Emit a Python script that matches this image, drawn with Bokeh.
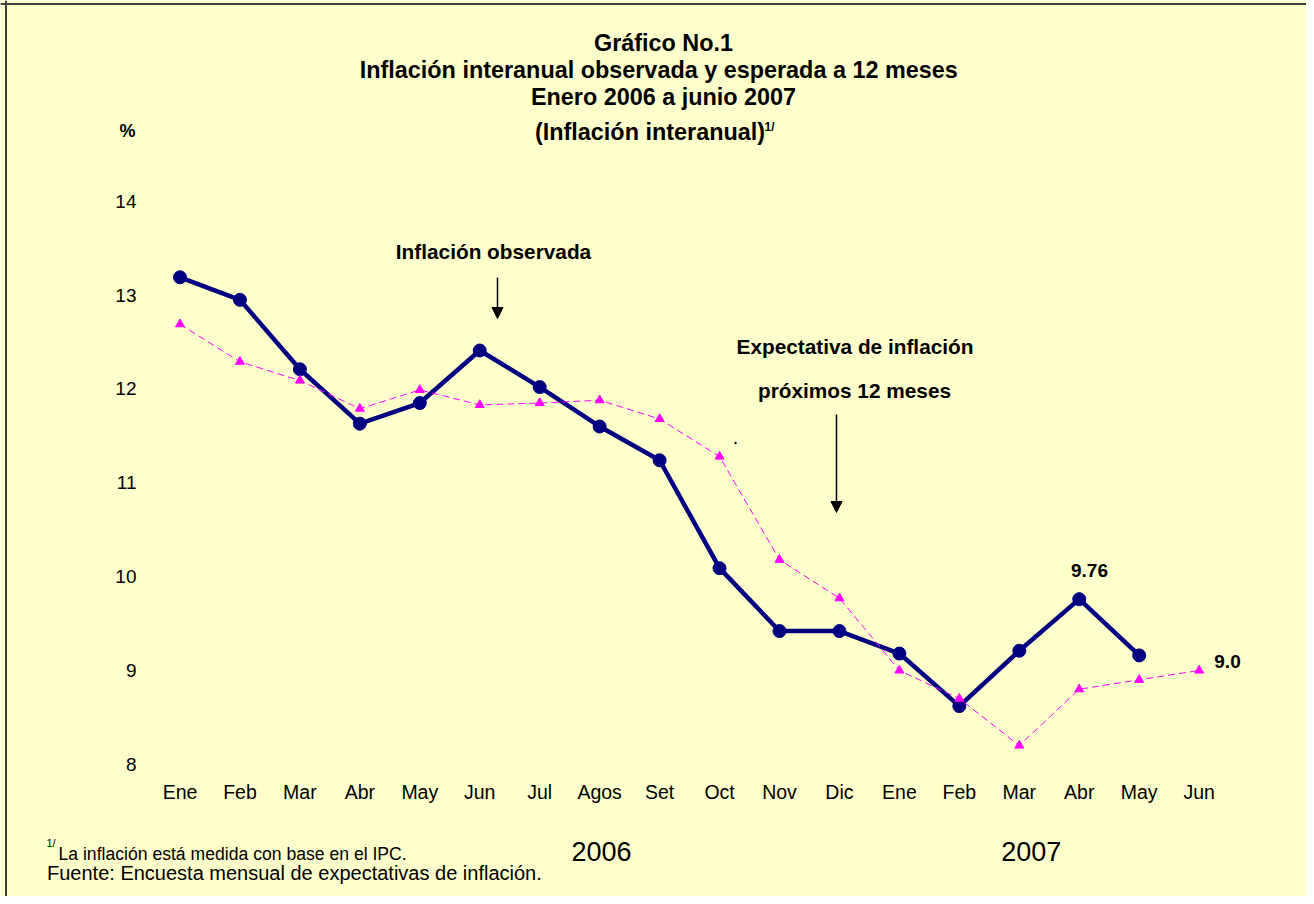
from bokeh.plotting import figure
from bokeh.models import Range1d, LinearAxis, FixedTicker, Label, Arrow, NormalHead, Span
from bokeh.embed import file_html
from bokeh.resources import INLINE

# ---------------- data ----------------
months = ["Ene", "Feb", "Mar", "Abr", "May", "Jun", "Jul", "Agos", "Set", "Oct",
          "Nov", "Dic", "Ene", "Feb", "Mar", "Abr", "May", "Jun"]
observada = [13.19, 12.95, 12.21, 11.63, 11.85, 12.41, 12.02, 11.60, 11.24, 10.09,
             9.42, 9.42, 9.18, 8.62, 9.21, 9.76, 9.16]
esperada = [12.69, 12.29, 12.09, 11.79, 11.99, 11.83, 11.85, 11.88, 11.68, 11.28,
            10.18, 9.77, 9.00, 8.70, 8.20, 8.80, 8.90, 9.00]
y_ticks = [8, 9, 10, 11, 12, 13, 14]
years = ["2006", "2007"]
year_pos = [7.03, 14.2]

# ---------------- layout helpers ----------------
W, H = 1306, 896
X0, DX = 179.5, 59.95     # px of first month, px per month
Y14, DY = 200.8, 93.83    # px of value 14, px per unit
FONT = "Liberation Sans"


def dx(px):  # pixel x -> data x
    return (px - X0) / DX


def dy(py):  # pixel y -> data y
    return 14 - (py - Y14) / DY


p = figure(width=W, height=H, title=None,
           x_range=Range1d(dx(0), dx(W)), y_range=Range1d(dy(H), dy(0)),
           output_backend="svg", toolbar_location=None,
           x_axis_location=None, y_axis_location=None, min_border=0,
           background_fill_color="#FFFFCC", border_fill_color="#FFFFCC",
           outline_line_color=None)
p.grid.grid_line_color = None

# outer frame of the chart area (left and top edges)
p.add_layout(Span(location=dx(5.5), dimension="height", line_color="#404040", line_width=2))
p.add_layout(Span(location=dy(3.5), dimension="width", line_color="#404040", line_width=2))

# y axis
yax = LinearAxis(fixed_location=dx(139), ticker=FixedTicker(ticks=y_ticks),
                 axis_line_color=None, major_tick_line_color=None,
                 minor_tick_line_color=None, major_tick_out=0, major_tick_in=0,
                 major_label_standoff=3, major_label_text_font=FONT,
                 major_label_text_font_size="19px", major_label_text_color="#000000")
p.add_layout(yax, "left")

# x axis (months)
xax = LinearAxis(fixed_location=dy(780.8), ticker=FixedTicker(ticks=list(range(len(months)))),
                 major_label_overrides={i: m for i, m in enumerate(months)},
                 axis_line_color=None, major_tick_line_color=None,
                 minor_tick_line_color=None, major_tick_out=0, major_tick_in=0,
                 major_label_standoff=0, major_label_text_font=FONT,
                 major_label_text_font_size="19.5px", major_label_text_color="#000000")
p.add_layout(xax, "below")

# series
xo = list(range(len(observada)))
xe = list(range(len(esperada)))
p.line(xo, observada, line_color="#000080", line_width=4.5)
p.scatter(xo, observada, marker="circle", size=13, fill_color="#000080", line_color="#000080")
p.line(xe, esperada, line_color="#FF00FF", line_width=1, line_dash="7 4")
p.scatter(xe, esperada, marker="triangle", size=9, fill_color="#FF00FF", line_color="#FF00FF")


def lab(text, x, y, size, bold=False, align="center", xdata=False):
    fs = float(size)
    yy = y - 0.35 * fs  # compensate label baseline placement
    p.add_layout(Label(x=x if xdata else dx(x), y=dy(yy), text=text, text_font=FONT,
                       text_font_size=f"{fs}px",
                       text_font_style="bold" if bold else "normal",
                       text_align=align, text_baseline="alphabetic", text_color="#000000"))


# titles
lab("Gráfico No.1", 663, 50.5, 23.4, True)
lab("Inflación  interanual observada y esperada a 12 meses", 661.5, 77.5, 23.4, True)
lab("Enero 2006 a junio 2007", 663, 105, 23.4, True)
lab("(Inflación interanual)", 649.5, 140, 23.4, True)
lab("1/", 764, 131, 12, True, "left")
lab("%", 127, 137, 18, True)

# annotations
lab("Inflación observada", 493, 258, 20.8, True)
lab("Expectativa de inflación", 854.5, 353, 20.8, True)
lab("próximos 12 meses", 854, 397, 20.8, True)
lab(".", 735, 443, 14, True)
lab("9.76", 1089, 577, 19, True)
lab("9.0", 1227, 668, 19, True)

p.add_layout(Arrow(x_start=dx(497), y_start=dy(277), x_end=dx(497), y_end=dy(318),
                   line_color="black", line_width=1.5,
                   end=NormalHead(size=11, fill_color="black", line_color="black")))
p.add_layout(Arrow(x_start=dx(836), y_start=dy(414), x_end=dx(836), y_end=dy(512),
                   line_color="black", line_width=1.5,
                   end=NormalHead(size=11, fill_color="black", line_color="black")))

# years
for yr, xp in zip(years, year_pos):
    lab(yr, xp, 860.6, 27, False, "center", xdata=True)

# footnotes
lab("1/", 46, 846, 11, False, "left")
lab("La inflación  está medida con base en el IPC.", 58, 860, 17.6, False, "left")
lab("Fuente: Encuesta mensual de expectativas de inflación.", 46.5, 879, 20, False, "left")

open("out.html", "w").write(file_html(p, INLINE))
